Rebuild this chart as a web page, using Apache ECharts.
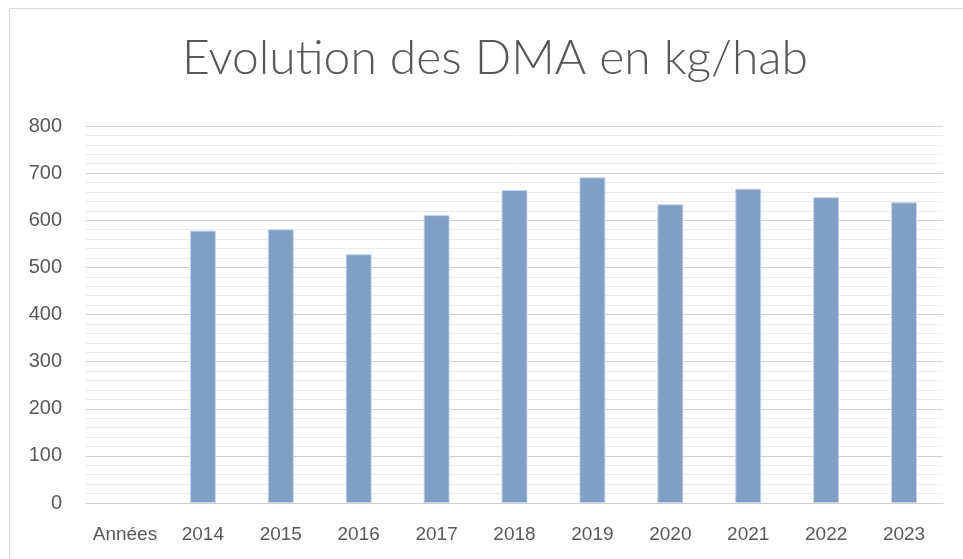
<!DOCTYPE html>
<html lang="fr">
<head>
<meta charset="utf-8">
<title>Evolution des DMA en kg/hab</title>
<script src="https://cdn.jsdelivr.net/npm/echarts@6/dist/echarts.min.js"></script>
<style>
  html, body { margin: 0; padding: 0; background: #fff; }
  #chart { width: 963px; height: 559px; }
</style>
</head>
<body>
<div id="chart"></div>
<script>
// données
var categories = ['Années', '2014', '2015', '2016', '2017', '2018', '2019', '2020', '2021', '2022', '2023'];
var dma = [null, 578, 581, 528, 611, 664, 691, 634, 667, 649, 638];
var yTicks = [0, 100, 200, 300, 400, 500, 600, 700, 800];

var labelFont = '"Liberation Sans Narrow", "Liberation Sans", sans-serif';

var myChart = echarts.init(document.getElementById('chart'));
myChart.setOption({
    animation: false,
    title: {
        text: 'Evolution des DMA en kg/hab',
        left: 490,
        textAlign: 'center',
        top: 30,
        textStyle: {
            fontFamily: 'Lato, "Open Sans", sans-serif',
            fontWeight: 300,
            fontSize: 48,
            color: '#595959'
        }
    },
    // cadre du graphique
    graphic: [{
        type: 'rect',
        shape: { x: 9.5, y: 8.5, width: 1000, height: 600 },
        style: { fill: 'none', stroke: '#d9d9d9', lineWidth: 1 },
        silent: true
    }],
    grid: { left: 86, right: 20, top: 126, bottom: 56 },
    xAxis: {
        type: 'category',
        data: categories,
        axisLine: { lineStyle: { color: '#d0d0d0' } },
        axisTick: { show: false },
        axisLabel: {
            interval: 0,
            margin: 22,
            fontFamily: labelFont,
            fontSize: 19,
            color: '#595959'
        }
    },
    yAxis: {
        type: 'value',
        min: yTicks[0],
        max: yTicks[yTicks.length - 1],
        interval: 100,
        axisLine: { show: false },
        axisTick: { show: false },
        axisLabel: {
            margin: 24,
            fontFamily: labelFont,
            fontSize: 20,
            color: '#595959'
        },
        splitLine: { lineStyle: { color: '#d0d0d0', width: 1 } },
        minorTick: { show: false, splitNumber: 5 },
        minorSplitLine: { show: true, lineStyle: { color: '#ebebeb', width: 1 } }
    },
    series: [{
        name: 'DMA',
        type: 'bar',
        data: dma,
        barWidth: 26,
        itemStyle: {
            color: '#7f9fc4',
            borderColor: '#c9d6e8',
            borderWidth: 1
        }
    }]
});
</script>
</body>
</html>
